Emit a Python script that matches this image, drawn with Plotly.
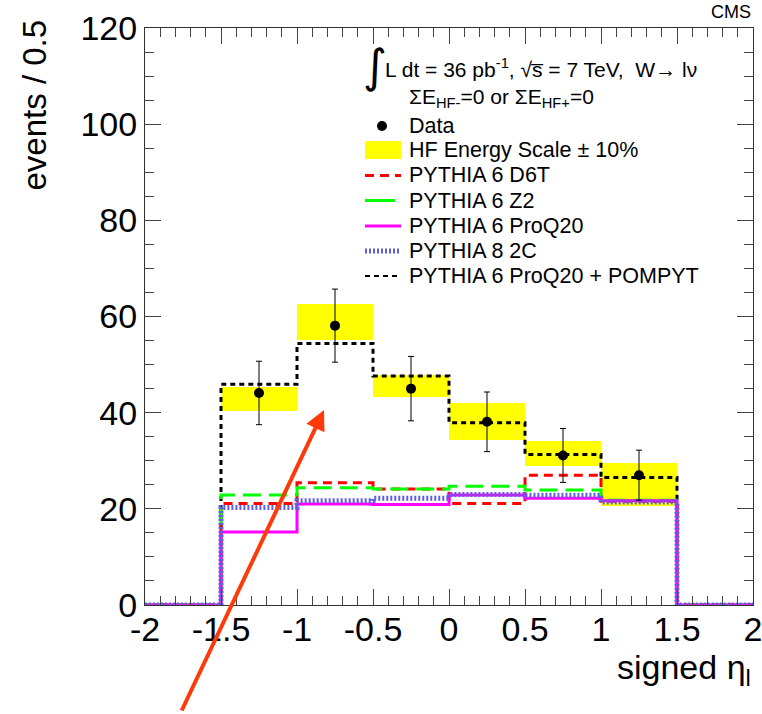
import plotly.graph_objects as go

# ---------------- data ----------------
bin_edges = [-2.0, -1.5, -1.0, -0.5, 0.0, 0.5, 1.0, 1.5, 2.0]
bin_centers = [-1.25, -0.75, -0.25, 0.25, 0.75, 1.25]
data_vals = [44.1, 58.1, 45.0, 38.1, 31.1, 27.0]
data_errs = [6.6, 7.6, 6.7, 6.2, 5.6, 5.2]
band_low = [40.3, 55.2, 43.2, 34.4, 29.0, 20.6]
band_high = [45.4, 62.7, 47.8, 42.1, 34.2, 29.5]
d6t = [21.1, 25.4, 24.1, 21.1, 27.0, 21.6]
z2 = [22.9, 24.4, 24.1, 24.7, 23.9, 21.8]
proq20 = [15.2, 21.0, 20.9, 22.9, 22.2, 21.7]
p8_2c = [20.3, 21.7, 22.2, 23.0, 22.8, 21.4]
pompyt = [45.9, 54.4, 47.6, 37.9, 31.3, 26.5]
x_tick_vals = [-2, -1.5, -1, -0.5, 0, 0.5, 1, 1.5, 2]
x_tick_text = ["-2", "-1.5", "-1", "-0.5", "0", "0.5", "1", "1.5", "2"]
y_tick_vals = [0, 20, 40, 60, 80, 100, 120]

FONT = "Liberation Sans, Arial, Helvetica, sans-serif"

# plot-area geometry (pixels) for placing decorations
L, R, T, B = 145, 753, 28, 605


def px(xp):
    return (xp - L) / (R - L)


def py(yp):
    return (B - yp) / (B - T)


def step_y(vals):
    # histogram outside [-1.5, 1.5] is empty
    return [0.0] + list(vals) + [0.0, 0.0]


fig = go.Figure()

# HF energy scale band
fig.add_trace(go.Bar(
    x=bin_centers,
    y=[h - l for h, l in zip(band_high, band_low)],
    base=band_low,
    width=0.5,
    marker=dict(color="#ffff00", line=dict(width=0)),
    showlegend=False, hoverinfo="skip",
))

curves = [
    (pompyt, "#000000", 3, "5px,4px"),
    (d6t, "#ff0000", 3, "9px,6px"),
    (z2, "#00ff00", 3, "18px,8px"),
    (proq20, "#ff00ff", 3, "solid"),
    (p8_2c, "#5f5fdf", 5, "2px,2px"),
]
for vals, col, w, dash in curves:
    fig.add_trace(go.Scatter(
        x=bin_edges, y=step_y(vals), mode="lines",
        line=dict(color=col, width=w, dash=dash, shape="hv"),
        showlegend=False, hoverinfo="skip",
    ))

# data
fig.add_trace(go.Scatter(
    x=bin_centers, y=data_vals, mode="markers",
    marker=dict(color="black", size=10),
    error_y=dict(type="data", array=data_errs, color="black", thickness=1, width=3),
    showlegend=False,
))

axis_common = dict(
    showline=True, linecolor="#333333", linewidth=1, mirror="allticks",
    ticks="inside", ticklen=16, tickwidth=1, tickcolor="#444444",
    showgrid=False, zeroline=False, ticklabeloverflow="allow", automargin=False,
    tickfont=dict(family=FONT, size=34, color="black"),
)
fig.update_xaxes(range=[-2, 2], tickmode="array", tickvals=x_tick_vals, ticktext=x_tick_text,
                 minor=dict(dtick=0.1, ticklen=9, tickcolor="#444444", ticks="inside"),
                 ticklabelstandoff=-6,
                 **axis_common)
fig.update_yaxes(range=[0, 120], tickmode="array", tickvals=y_tick_vals,
                 minor=dict(dtick=5, ticklen=9, tickcolor="#444444", ticks="inside"),
                 **axis_common)

shapes = []
annotations = []

# ---- custom legend ----
leg_y = [126, 150, 175.5, 200.5, 226, 251, 276]
leg_text = ["Data", "HF Energy Scale \u00b1 10%", "PYTHIA 6 D6T", "PYTHIA 6 Z2",
            "PYTHIA 6 ProQ20", "PYTHIA 8 2C", "PYTHIA 6 ProQ20 + POMPYT"]
for yy, tx in zip(leg_y, leg_text):
    annotations.append(dict(xref="paper", yref="paper", x=px(407), y=py(yy), text=tx,
                            showarrow=False, xanchor="left", yanchor="middle",
                            font=dict(family=FONT, size=21.5, color="black")))
# data dot
shapes.append(dict(type="circle", xref="paper", yref="paper",
                   x0=px(377), x1=px(387), y0=py(131), y1=py(121),
                   fillcolor="black", line=dict(width=0)))
# yellow box
shapes.append(dict(type="rect", xref="paper", yref="paper",
                   x0=px(365), x1=px(401), y0=py(159), y1=py(141),
                   fillcolor="#ffff00", line=dict(width=0)))
leg_lines = [
    (175.5, "#ff0000", 3, "9px,6px", 401),
    (200.5, "#00ff00", 3, "solid", 395),
    (226, "#ff00ff", 3, "solid", 401),
    (251, "#5f5fdf", 5, "2px,2px", 401),
    (276, "#000000", 2, "5px,4px", 401),
]
for yy, col, w, dash, xe in leg_lines:
    shapes.append(dict(type="line", xref="paper", yref="paper",
                       x0=px(365), x1=px(xe), y0=py(yy), y1=py(yy),
                       line=dict(color=col, width=w, dash=dash)))

# header lines
annotations.append(dict(xref="paper", yref="paper", x=px(361), y=py(66), text="\u222b",
                        showarrow=False, xanchor="left", yanchor="middle",
                        font=dict(family="DejaVu Sans", size=46, color="black")))
annotations.append(dict(xref="paper", yref="paper", x=px(383), y=py(68),
                        text="L dt = 36 pb<sup>-1</sup>, \u221as\u0305 = 7 TeV,  W\u2192 l\u03bd",
                        showarrow=False, xanchor="left", yanchor="middle",
                        font=dict(family=FONT, size=21, color="black")))
annotations.append(dict(xref="paper", yref="paper", x=px(407), y=py(98),
                        text="\u03a3E<sub>HF-</sub>=0 or \u03a3E<sub>HF+</sub>=0",
                        showarrow=False, xanchor="left", yanchor="middle",
                        font=dict(family=FONT, size=21, color="black")))

# CMS label
annotations.append(dict(xref="paper", yref="paper", x=1.0, y=py(12), text="CMS",
                        showarrow=False, xanchor="right", yanchor="middle",
                        font=dict(family=FONT, size=18, color="black")))
# axis titles
annotations.append(dict(xref="paper", yref="paper", x=px(34), y=py(18), text="events / 0.5",
                        textangle=-90, showarrow=False, xanchor="center", yanchor="top",
                        font=dict(family=FONT, size=33, color="black")))
annotations.append(dict(xref="paper", yref="paper", x=1.0, y=py(669),
                        text="signed \u03b7<sub>l</sub>",
                        showarrow=False, xanchor="right", yanchor="middle",
                        font=dict(family=FONT, size=34, color="black")))

# red arrow
annotations.append(dict(xref="x", yref="y", x=(324 - 449) / 152.0, y=(605 - 410) / 4.808,
                        text="", showarrow=True, arrowhead=2, arrowsize=1, arrowwidth=4,
                        arrowcolor="#ff3a0a", ax=181 - 324, ay=712 - 410,
                        axref="pixel", ayref="pixel"))

fig.update_layout(
    width=762, height=714,
    margin=dict(l=L, r=762 - R, t=T, b=714 - B, autoexpand=False),
    paper_bgcolor="white", plot_bgcolor="white",
    showlegend=False, bargap=0,
    shapes=shapes, annotations=annotations,
)

fig.write_html("out.html")
